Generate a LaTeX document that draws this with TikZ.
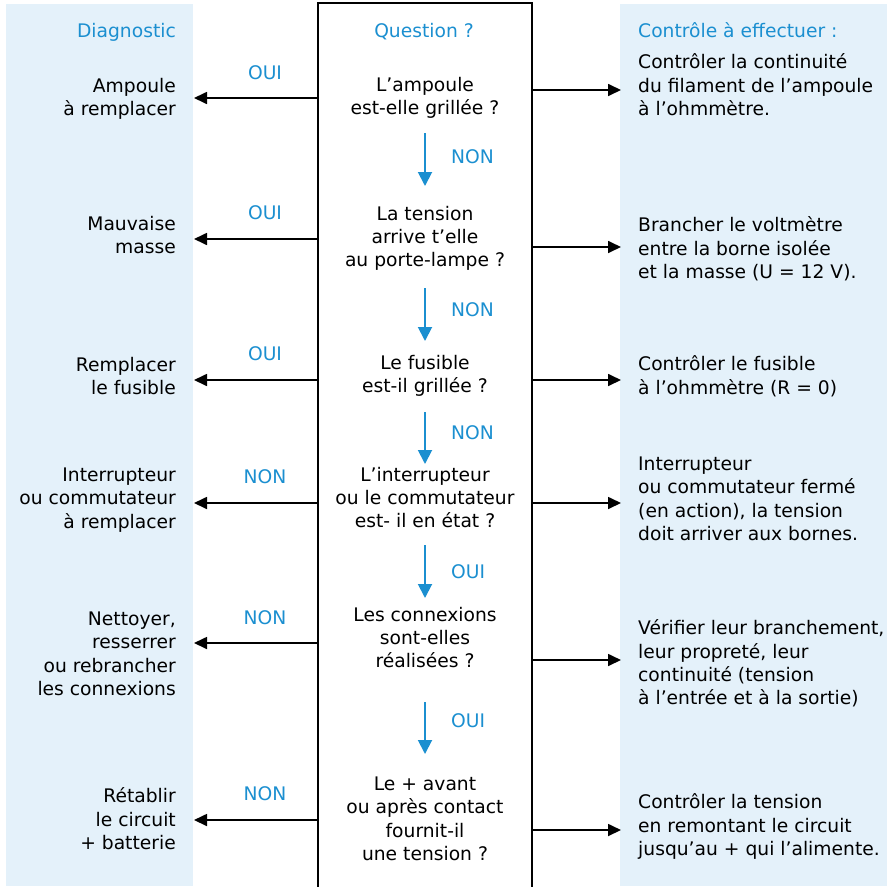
\documentclass[tikz,border=0pt]{standalone}
\usepackage{fontspec}
\setmainfont{DejaVu Sans}
\usetikzlibrary{arrows.meta}
\definecolor{panelblue}{RGB}{228,241,250}
\definecolor{labelblue}{RGB}{27,143,208}

\tikzset{
  txt/.style={inner sep=0pt, font=\fontsize{18.7}{23.4}\selectfont, execute at begin node=\strut},
  diag/.style={txt, anchor=north east, align=right},
  quest/.style={txt, anchor=north, align=center},
  ctrl/.style={txt, anchor=north west, align=left},
  heading/.style={inner sep=0pt, font=\fontsize{18.7}{23.4}\selectfont, text=labelblue},
  answer/.style={heading, anchor=base},
  nextlabel/.style={heading, anchor=base west},
  flow/.style={line width=1.7pt, -{Triangle[length=13pt,width=12pt]}},
  godown/.style={line width=1.9pt, draw=labelblue, -{Triangle[length=14pt,width=14pt]}, labelblue},
  frame/.style={line width=2pt}
}

\begin{document}
\begin{tikzpicture}[x=1pt,y=-1pt]
\useasboundingbox (0,0) rectangle (890,886);

% side panels
\fill[panelblue] (6,4) rectangle (193,886);
\fill[panelblue] (620,4) rectangle (887,886);

% central question column (open at the bottom)
\draw[frame] (318,888) -- (318,3) -- (532,3) -- (532,888);

% column headings
\node[heading, anchor=base east] (hdiag) at (176,37) {Diagnostic};
\node[heading, anchor=base] (hquest) at (424,37) {Question ?};
\node[heading, anchor=base west] (hctrl) at (638,37) {Contrôle à effectuer :};

% questions
\node[quest] (q1) at (425,76.6) {L’ampoule\\est-elle grillée ?};
\node[quest] (q2) at (425,205.6) {La tension\\arrive t’elle\\au porte-lampe ?};
\node[quest] (q3) at (425,354.6) {Le fusible\\est-il grillée ?};
\node[quest] (q4) at (425,466.6) {L’interrupteur\\ou le commutateur\\est- il en état ?};
\node[quest] (q5) at (425,606.6) {Les connexions\\sont-elles\\réalisées ?};
\node[quest] (q6) at (425,776.6) {Le + avant\\ou après contact\\fournit-il\\une tension ?};

% diagnostics
\node[diag] (d1) at (176,77.6) {Ampoule\\à remplacer};
\node[diag] (d2) at (176,215.6) {Mauvaise\\masse};
\node[diag] (d3) at (176,356.6) {Remplacer\\le fusible};
\node[diag] (d4) at (176,467.6) {Interrupteur\\ou commutateur\\à remplacer};
\node[diag] (d5) at (176,611.6) {Nettoyer,\\resserrer\\ou rebrancher\\les connexions};
\node[diag] (d6) at (176,787.6) {Rétablir\\le circuit\\+ batterie};

% checks to carry out
\node[ctrl] (c1) at (638,53.6) {Contrôler la continuité\\du filament de l’ampoule\\à l’ohmmètre.};
\node[ctrl] (c2) at (638,216.6) {Brancher le voltmètre\\entre la borne isolée\\et la masse (U = 12 V).};
\node[ctrl] (c3) at (638,355.6) {Contrôler le fusible\\à l’ohmmètre (R = 0)};
\node[ctrl] (c4) at (638,456.6) {Interrupteur\\ou commutateur fermé\\(en action), la tension\\doit arriver aux bornes.};
\node[ctrl] (c5) at (638,619.6) {Vérifier leur branchement,\\leur propreté, leur\\continuité (tension\\à l’entrée et à la sortie)};
\node[ctrl] (c6) at (638,793.6) {Contrôler la tension\\en remontant le circuit\\jusqu’au + qui l’alimente.};

% answers leading to a diagnosis
\node[answer] (a1) at (265,79) {OUI};
\node[answer] (a2) at (265,219) {OUI};
\node[answer] (a3) at (265,360) {OUI};
\node[answer] (a4) at (265,483) {NON};
\node[answer] (a5) at (265,624) {NON};
\node[answer] (a6) at (265,800) {NON};

% connector end points on the column edges and panels
\coordinate (ql1) at (318,98);  \coordinate (dt1) at (194,98);
\coordinate (ql2) at (318,239); \coordinate (dt2) at (194,239);
\coordinate (ql3) at (318,380); \coordinate (dt3) at (194,380);
\coordinate (ql4) at (318,503); \coordinate (dt4) at (194,503);
\coordinate (ql5) at (318,643); \coordinate (dt5) at (194,643);
\coordinate (ql6) at (318,820); \coordinate (dt6) at (194,820);

\coordinate (qr1) at (532,90);  \coordinate (ct1) at (621,90);
\coordinate (qr2) at (532,247); \coordinate (ct2) at (621,247);
\coordinate (qr3) at (532,380); \coordinate (ct3) at (621,380);
\coordinate (qr4) at (532,503); \coordinate (ct4) at (621,503);
\coordinate (qr5) at (532,660); \coordinate (ct5) at (621,660);
\coordinate (qr6) at (532,830); \coordinate (ct6) at (621,830);

\foreach \i in {1,...,6}{
  \draw[flow] (ql\i) -- (dt\i);
  \draw[flow] (qr\i) -- (ct\i);
}

% flow from one question to the next
\coordinate (s1) at (425,133); \coordinate (e1) at (425,186);
\coordinate (s2) at (425,288); \coordinate (e2) at (425,341);
\coordinate (s3) at (425,412); \coordinate (e3) at (425,464);
\coordinate (s4) at (425,545); \coordinate (e4) at (425,598);
\coordinate (s5) at (425,702); \coordinate (e5) at (425,754);
\foreach \i in {1,...,5}{
  \draw[godown] (s\i) -- (e\i);
}
\node[nextlabel] (n1) at (451,163) {NON};
\node[nextlabel] (n2) at (451,316) {NON};
\node[nextlabel] (n3) at (451,439) {NON};
\node[nextlabel] (n4) at (451,578) {OUI};
\node[nextlabel] (n5) at (451,727) {OUI};
\end{tikzpicture}
\end{document}
